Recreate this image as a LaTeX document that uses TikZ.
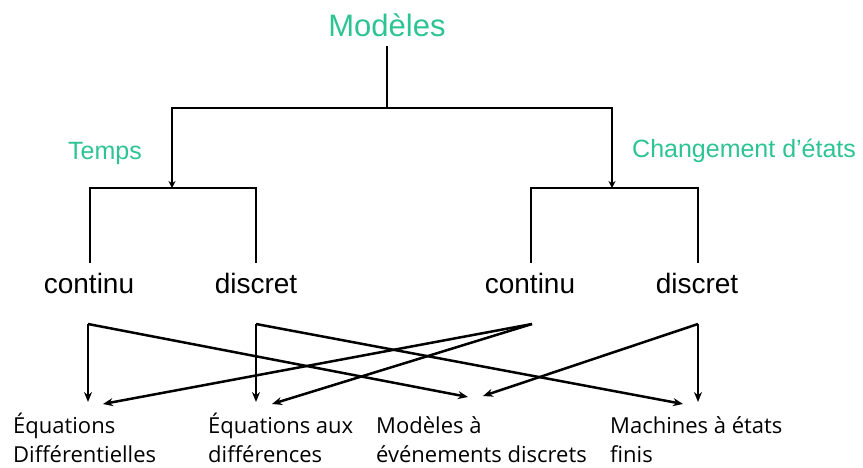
\documentclass[tikz,border=0pt]{standalone}
\usepackage{fontspec}
\setmainfont{Liberation Sans}
\newfontfamily\lblfont{Open Sans}
\usetikzlibrary{arrows.meta}
\definecolor{titlegreen}{RGB}{45,196,145}
\begin{document}
\begin{tikzpicture}[x=1pt,y=-1pt,
  treeline/.style={line width=2.5pt, line cap=rect},
  branch/.style={treeline, line cap=butt, -{Stealth[length=7pt,width=7pt]}},
  fanout/.style={line width=2.5pt, line join=miter, -{Stealth[length=10pt,width=8pt]}},
  heading/.style={text=titlegreen, inner sep=0pt, font=\fontsize{31}{31}\selectfont},
  axis/.style={text=titlegreen, inner sep=0pt, font=\fontsize{25}{25}\selectfont},
  kind/.style={inner sep=0pt, font=\fontsize{28}{28}\selectfont},
  family/.style={inner sep=0pt, align=left, anchor=base west,
    font=\lblfont\fontsize{22}{29}\selectfont}]
\useasboundingbox (0,0) rectangle (863,468);

% root and the two classification axes
\node[heading, anchor=base] (root) at (387,37) {Modèles};
\node[axis, anchor=base west] (temps) at (68,160) {Temps};
\node[axis, anchor=base west] (etats) at (632,158) {Changement d'états};

% junction points of the tree
\coordinate (rootfoot) at (387,47);
\coordinate (rootbar) at (387,108);
\coordinate (barL) at (172,108);
\coordinate (barR) at (612,108);
\coordinate (forkL) at (172,188);
\coordinate (forkR) at (612,188);
\coordinate (forkLa) at (90,188);
\coordinate (forkLb) at (256,188);
\coordinate (forkRa) at (531,188);
\coordinate (forkRb) at (698,188);

% leaves of the tree
\node[kind, anchor=base] (tc) at (89,293) {continu};
\node[kind, anchor=base] (td) at (256,293) {discret};
\node[kind, anchor=base] (ec) at (530,293) {continu};
\node[kind, anchor=base] (ed) at (697,293) {discret};

\coordinate (tcTop) at (90,262);
\coordinate (tdTop) at (256,262);
\coordinate (ecTop) at (531,262);
\coordinate (edTop) at (698,262);

\draw[treeline] (rootfoot) -- (rootbar);
\draw[treeline] (barL) -- (barR);
\draw[branch] (barL) -- (forkL);
\draw[branch] (barR) -- (forkR);
\draw[treeline] (tcTop) -- (forkLa) -- (forkLb) -- (tdTop);
\draw[treeline] (ecTop) -- (forkRa) -- (forkRb) -- (edTop);

% model families
\node[family] (eqdiff) at (13,462) {Équations\\Différentielles};
\node[family] (eqrec) at (208,462) {Équations aux\\différences};
\node[family] (evt) at (376,462) {Modèles à\\événements discrets};
\node[family] (fsm) at (610,462) {Machines à états\\finis};

% start points of the cross links
\coordinate (sTC) at (88,324);
\coordinate (sTD) at (256,324);
\coordinate (sEC) at (532,324);
\coordinate (sED) at (698,324);

% arrow ends above the families
\coordinate (eqdiffA) at (88,402);
\coordinate (eqdiffB) at (103,404);
\coordinate (eqrecA) at (256,402);
\coordinate (eqrecB) at (272,404);
\coordinate (evtA) at (468,397);
\coordinate (evtB) at (483,396);
\coordinate (fsmA) at (683,404);
\coordinate (fsmB) at (698,402);

% cross links between the axes and the families
\draw[fanout] (sTC) -- (eqdiffA);
\draw[fanout] (sTC) -- (evtA);
\draw[fanout] (sTD) -- (eqrecA);
\draw[fanout] (sTD) -- (fsmA);
\draw[fanout] (sEC) -- (eqdiffB);
\draw[fanout] (sEC) -- (eqrecB);
\draw[fanout] (sED) -- (fsmB);
\draw[fanout] (sED) -- (evtB);
\end{tikzpicture}
\end{document}
